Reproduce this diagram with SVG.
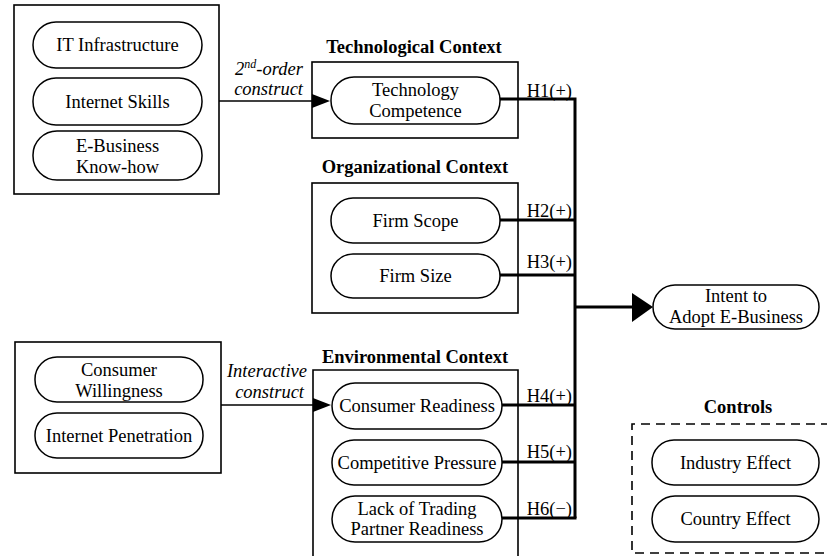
<svg xmlns="http://www.w3.org/2000/svg" width="827" height="556" viewBox="0 0 827 556" font-family="'Liberation Serif', Tinos, 'Times New Roman', 'DejaVu Serif', serif">
<style>
text{font-family:'Liberation Serif', Tinos, 'Times New Roman', 'DejaVu Serif', serif;font-size:18.5px;fill:#000}
.c{text-anchor:middle}
.e{text-anchor:end}
.b{font-weight:bold}
.i{font-style:italic}
.box{fill:none;stroke:#000;stroke-width:1.6}
.pill{fill:#fff;stroke:#000;stroke-width:1.5}
.thin{fill:none;stroke:#000;stroke-width:1.5}
.thick{fill:none;stroke:#000;stroke-width:3}
.head{fill:#000}
</style>
<rect width="827" height="556" fill="#fff"/>

<g id="ctx-tech-src">
<rect class="box" x="14" y="5" width="205" height="189"/>
<g id="n-it"><rect class="pill" x="33" y="22" width="169" height="46" rx="23"/><text class="c" x="117.5" y="51">IT Infrastructure</text></g>
<g id="n-skills"><rect class="pill" x="33" y="78" width="169" height="47" rx="23"/><text class="c" x="117.5" y="108">Internet Skills</text></g>
<g id="n-know"><rect class="pill" x="33" y="131" width="169" height="49" rx="24"/><text class="c" x="117.5" y="152">E-Business</text><text class="c" x="117.5" y="173">Know-how</text></g>
</g>

<g id="ctx-tech">
<text class="c b" x="414" y="53">Technological Context</text>
<rect class="box" x="312" y="62" width="206" height="76"/>
<g id="n-techcomp"><rect class="pill" x="331" y="77" width="169" height="47" rx="23"/><text class="c" x="415.5" y="96">Technology</text><text class="c" x="415.5" y="117">Competence</text></g>
</g>

<g id="ctx-org">
<text class="c b" x="415" y="173">Organizational Context</text>
<rect class="box" x="312" y="183" width="206" height="130"/>
<g id="n-scope"><rect class="pill" x="331" y="198" width="169" height="45" rx="22"/><text class="c" x="415.5" y="227">Firm Scope</text></g>
<g id="n-size"><rect class="pill" x="331" y="254" width="169" height="44" rx="22"/><text class="c" x="415.5" y="282">Firm Size</text></g>
</g>

<g id="ctx-env-src">
<rect class="box" x="15" y="342" width="206" height="131"/>
<g id="n-willing"><rect class="pill" x="35" y="357" width="168" height="45" rx="22"/><text class="c" x="119" y="376">Consumer</text><text class="c" x="119" y="397">Willingness</text></g>
<g id="n-penet"><rect class="pill" x="35" y="413" width="168" height="45" rx="22"/><text class="c" x="119" y="442">Internet Penetration</text></g>
</g>

<g id="ctx-env">
<text class="c b" x="415" y="363">Environmental Context</text>
<path class="box" d="M313,560 L313,370 L518,370 L518,560"/>
<g id="n-consready"><rect class="pill" x="332" y="383" width="170" height="46" rx="23"/><text class="c" x="417" y="412">Consumer Readiness</text></g>
<g id="n-comp"><rect class="pill" x="332" y="440" width="170" height="45" rx="22"/><text class="c" x="417" y="469">Competitive Pressure</text></g>
<g id="n-lack"><rect class="pill" x="332" y="496" width="170" height="46" rx="23"/><text class="c" x="417" y="515">Lack of Trading</text><text class="c" x="417" y="535">Partner Readiness</text></g>
</g>

<g id="n-intent"><rect class="pill" x="653" y="285" width="166" height="44" rx="22"/><text class="c" x="736" y="302">Intent to</text><text class="c" x="736" y="323">Adopt E-Business</text></g>

<g id="ctx-controls">
<text class="c b" x="738" y="413">Controls</text>
<path d="M830,424 L632,424 L632,553 L830,553" fill="none" stroke="#000" stroke-width="1.6" stroke-dasharray="9,6"/>
<g id="n-industry"><rect class="pill" x="652" y="440" width="167" height="45" rx="22"/><text class="c" x="735.5" y="469">Industry Effect</text></g>
<g id="n-country"><rect class="pill" x="652" y="496" width="167" height="46" rx="23"/><text class="c" x="735.5" y="525">Country Effect</text></g>
</g>

<g id="connectors">
<line class="thin" x1="219" y1="101" x2="314" y2="101"/>
<path class="head" d="M312,94 L330,101 L312,108 Z"/>
<line class="thin" x1="221" y1="405" x2="315" y2="405"/>
<path class="head" d="M313,398 L331,405 L313,412 Z"/>
<path class="thick" d="M500,99 L575,99 L575,518"/>
<line class="thick" x1="500" y1="220" x2="575" y2="220"/>
<line class="thick" x1="500" y1="275" x2="575" y2="275"/>
<line class="thick" x1="502" y1="405" x2="575" y2="405"/>
<line class="thick" x1="502" y1="462" x2="575" y2="462"/>
<line class="thick" x1="502" y1="518" x2="576.5" y2="518"/>
<line class="thick" x1="575" y1="307" x2="634" y2="307"/>
<path class="head" d="M632,293 L653,307 L632,322 Z"/>
<text class="i" x="235" y="75">2<tspan font-size="12" dy="-7">nd</tspan><tspan dy="7">-order</tspan></text>
<text class="i e" x="303" y="95">construct</text>
<text class="i e" x="307" y="377">Interactive</text>
<text class="i e" x="304" y="398">construct</text>
<text class="e" x="572" y="97">H1(+)</text>
<text class="e" x="572" y="217">H2(+)</text>
<text class="e" x="572" y="268">H3(+)</text>
<text class="e" x="572" y="402">H4(+)</text>
<text class="e" x="572" y="458">H5(+)</text>
<text class="e" x="572" y="515">H6(−)</text>
</g>
</svg>
